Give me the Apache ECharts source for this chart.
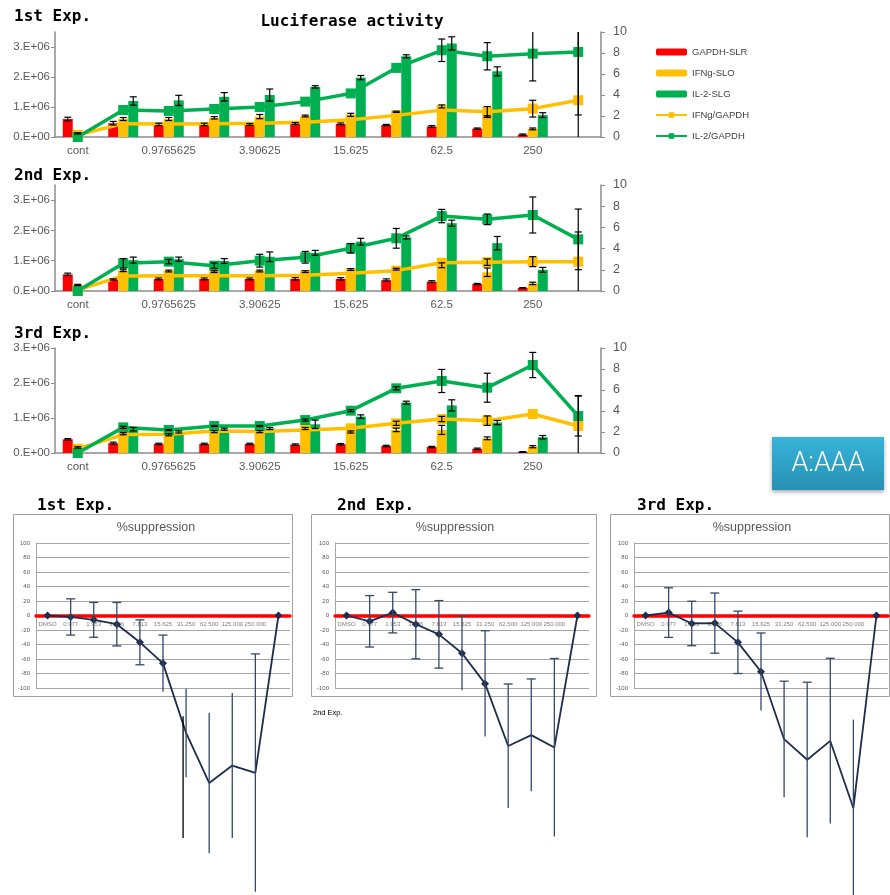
<!DOCTYPE html>
<html><head><meta charset="utf-8">
<script src="https://cdn.jsdelivr.net/npm/echarts@6/dist/echarts.min.js"></script>
<style>html,body{margin:0;padding:0;background:#fff}#c{width:890px;height:895px}</style>
</head><body><div id="c"></div>
<script>
// ---------- DATA ----------
const categories = ['cont','0.48828125','0.9765625','1.953125','3.90625','7.8125','15.625','31.25','62.5','125','250','500'];
const leftTickValues = [0, 1e6, 2e6, 3e6];
const seriesNames = ['GAPDH-SLR','IFNg-SLO','IL-2-SLG','IFNg/GAPDH','IL-2/GAPDH'];

// 1st Exp.
const gapdh1    = [0.60e6,0.46e6,0.42e6,0.42e6,0.42e6,0.45e6,0.44e6,0.40e6,0.35e6,0.28e6,0.08e6,0];
const gapdh1Err = [0.06e6,0.06e6,0.04e6,0.04e6,0.03e6,0.03e6,0.03e6,0.02e6,0.03e6,0.02e6,0.02e6,0];
const ifng1     = [0.12e6,0.60e6,0.60e6,0.64e6,0.68e6,0.70e6,0.74e6,0.84e6,1.02e6,0.68e6,0.27e6,0];
const ifng1Err  = [0.02e6,0.05e6,0.05e6,0.04e6,0.07e6,0.03e6,0.05e6,0.02e6,0.05e6,0.03e6,0.03e6,0];
const il2b1     = [0,1.20e6,1.22e6,1.34e6,1.40e6,1.67e6,1.98e6,2.69e6,3.12e6,2.19e6,0.73e6,0];
const il2b1Err  = [0,0.14e6,0.17e6,0.14e6,0.20e6,0.04e6,0.07e6,0.05e6,0.22e6,0.15e6,0.08e6,0];
const ifnRatio1    = [0.2,1.27,1.24,1.27,1.30,1.40,1.65,2.06,2.56,2.40,2.70,3.50];
const ifnRatio1Err = [0,0,0,0,0,0,0,0,0,0.5,0.8,7.0];
const il2Ratio1    = [0,2.57,2.48,2.67,2.86,3.37,4.15,6.58,8.26,7.69,7.94,8.10];
const il2Ratio1Err = [0,0,0,0,0,0,0,0,1.07,1.3,2.6,6.0];

// 2nd Exp.
const gapdh2    = [0.55e6,0.38e6,0.40e6,0.40e6,0.40e6,0.40e6,0.40e6,0.36e6,0.31e6,0.23e6,0.10e6,0];
const gapdh2Err = [0.04e6,0.02e6,0.03e6,0.03e6,0.03e6,0.04e6,0.04e6,0.04e6,0.03e6,0.02e6,0.01e6,0];
const ifng2     = [0.20e6,0.67e6,0.66e6,0.64e6,0.66e6,0.64e6,0.71e6,0.72e6,0.85e6,0.62e6,0.25e6,0];
const ifng2Err  = [0.02e6,0.03e6,0.03e6,0.03e6,0.03e6,0.03e6,0.03e6,0.03e6,0.08e6,0.14e6,0.04e6,0];
const il2b2     = [0,1.02e6,1.05e6,0.99e6,1.13e6,1.26e6,1.63e6,1.77e6,2.24e6,1.58e6,0.70e6,0];
const il2b2Err  = [0,0.10e6,0.07e6,0.08e6,0.16e6,0.08e6,0.11e6,0.05e6,0.10e6,0.22e6,0.08e6,0];
const ifnRatio2    = [0.1,1.42,1.45,1.45,1.45,1.48,1.67,1.92,2.67,2.72,2.77,2.77];
const ifnRatio2Err = [0,0,0,0,0,0,0,0,0,0.3,0.47,2.8];
const il2Ratio2    = [0,2.61,2.77,2.39,2.86,3.18,4.03,4.97,7.07,6.76,7.17,4.87];
const il2Ratio2Err = [0,0.45,0.2,0.25,0.6,0.55,0.45,0.93,0.63,0.5,1.7,2.86];

// 3rd Exp.
const gapdh3    = [0.39e6,0.28e6,0.26e6,0.26e6,0.26e6,0.24e6,0.25e6,0.20e6,0.17e6,0.12e6,0.03e6,0];
const gapdh3Err = [0.02e6,0.03e6,0.02e6,0.02e6,0.02e6,0.02e6,0.02e6,0.02e6,0.02e6,0.02e6,0.01e6,0];
const ifng3     = [0.16e6,0.55e6,0.52e6,0.61e6,0.61e6,0.70e6,0.60e6,0.66e6,0.66e6,0.42e6,0.18e6,0];
const ifng3Err  = [0.02e6,0.03e6,0.03e6,0.03e6,0.03e6,0.03e6,0.03e6,0.05e6,0.13e6,0.04e6,0.03e6,0];
const il2b3     = [0,0.68e6,0.60e6,0.68e6,0.70e6,0.82e6,1.04e6,1.44e6,1.36e6,0.87e6,0.45e6,0];
const il2b3Err  = [0,0.05e6,0.03e6,0.03e6,0.03e6,0.12e6,0.05e6,0.04e6,0.16e6,0.06e6,0.05e6,0];
const ifnRatio3    = [0.4,1.75,1.78,2.1,2.05,2.18,2.35,2.83,3.24,3.08,3.71,2.57];
const ifnRatio3Err = [0,0,0,0,0,0,0,0.2,0.25,0.45,0,2.9];
const il2Ratio3    = [0,2.44,2.19,2.57,2.57,3.14,4.03,6.16,6.86,6.22,8.38,3.52];
const il2Ratio3Err = [0,0.1,0.05,0.05,0.05,0.1,0.1,0.15,1.1,1.38,1.2,1.9];

// %suppression panels
const suppCategories = ['DMSO','0.977','1.953','3.906','7.813','15.625','31.250','62.500','125.000','250.000',''];
const suppTicks = {min: -100, max: 100, step: 20};
const supp1    = [0,-2,-6,-12,-37,-66,-162,-231,-207,-217,0];
const supp1Err = [0,25,24,30,31,39,61,97,100,164,0];
// stray second error bar drawn at 31.250 in the 1st panel (mid value and half-range)
const supp1ExtraMid = [0,0,0,0,0,0,-223,0,0,0,0];
const supp1ExtraErr = [0,0,0,0,0,0,84,0,0,0,0];
const supp2    = [0,-8,4,-12,-26,-52,-94,-180,-165,-182,0];
const supp2Err = [0,35.5,28,47.7,46.6,51,73,85.5,77.5,122.7,0];
const supp3    = [0,4,-11,-10.5,-37,-77.5,-170.6,-199,-173,-265.6,0];
const supp3Err = [0,34.2,30.7,41.5,43,53.4,80,107,114,122,0];

// ---------- CHART ----------
const chart = echarts.init(document.getElementById('c'));
const RED = '#ff0000', YEL = '#ffc000', GRN = '#00b050';
const AX = '#8c8c8c', LBL = '#595959';
const BAR_W = 10;

const tops = [
  {top: 32,  h: 105, lmax: 3.5e6, g: gapdh1, gE: gapdh1Err, y: ifng1, yE: ifng1Err, b: il2b1, bE: il2b1Err, r1: ifnRatio1, r1E: ifnRatio1Err, r2: il2Ratio1, r2E: il2Ratio1Err},
  {top: 185, h: 106, lmax: 3.5e6, g: gapdh2, gE: gapdh2Err, y: ifng2, yE: ifng2Err, b: il2b2, bE: il2b2Err, r1: ifnRatio2, r1E: ifnRatio2Err, r2: il2Ratio2, r2E: il2Ratio2Err},
  {top: 348, h: 105, lmax: 3.0e6, g: gapdh3, gE: gapdh3Err, y: ifng3, yE: ifng3Err, b: il2b3, bE: il2b3Err, r1: ifnRatio3, r1E: ifnRatio3Err, r2: il2Ratio3, r2E: il2Ratio3Err}
];
const bottoms = [
  {left: 36,  s: supp1, e: supp1Err},
  {left: 335, s: supp2, e: supp2Err},
  {left: 634, s: supp3, e: supp3Err}
];

function errRender(offset, capW, lowB, highB, clamp, color, lw) {
  const inside = v => v >= lowB && v <= highB;
  return function (params, api) {
    const x = api.value(0), v = api.value(1), e = api.value(2);
    if (!e) return null;
    const lo = v - e, hi = v + e;
    const loC = clamp ? Math.max(lo, lowB) : lo;
    const hiC = clamp ? Math.min(hi, highB) : hi;
    const p1 = api.coord([x, hiC]), p2 = api.coord([x, loC]);
    const cx = p1[0] + offset;
    const st = {stroke: color, lineWidth: lw};
    const ch = [{type: 'line', shape: {x1: cx, y1: p1[1], x2: cx, y2: p2[1]}, style: st}];
    if (inside(hi)) ch.push({type: 'line', shape: {x1: cx - capW/2, y1: p1[1], x2: cx + capW/2, y2: p1[1]}, style: st});
    if (inside(lo)) ch.push({type: 'line', shape: {x1: cx - capW/2, y1: p2[1], x2: cx + capW/2, y2: p2[1]}, style: st});
    return {type: 'group', children: ch};
  };
}
function errData(vals, errs) { return vals.map((v, i) => [i, v, errs[i]]); }

const grid = [], xAxis = [], yAxis = [], series = [];
tops.forEach((t, i) => {
  grid.push({left: 55, top: t.top, width: 546, height: t.h});
  xAxis.push({
    type: 'category', gridIndex: i, data: categories, boundaryGap: true,
    axisLine: {lineStyle: {color: AX, width: 1.5}},
    axisTick: {interval: 0, length: 4, lineStyle: {color: AX}},
    axisLabel: {interval: 1, fontSize: 11.5, color: LBL, margin: 8, fontFamily: 'Liberation Sans'}
  });
  yAxis.push({
    type: 'value', gridIndex: i, min: 0, max: t.lmax, position: 'left',
    axisLine: {show: true, lineStyle: {color: AX, width: 1.5}},
    axisTick: {show: true, length: 4, customValues: leftTickValues, lineStyle: {color: AX}},
    axisLabel: {customValues: leftTickValues, fontSize: 11.5, color: LBL, margin: 5, fontFamily: 'Liberation Sans',
      formatter: v => v === 0 ? '0.E+00' : (v / 1e6) + '.E+06'},
    splitLine: {show: false}
  });
  yAxis.push({
    type: 'value', gridIndex: i, min: 0, max: 10, interval: 2, position: 'right',
    axisLine: {show: true, lineStyle: {color: AX, width: 1.5}},
    axisTick: {show: true, length: 4, lineStyle: {color: AX}},
    axisLabel: {fontSize: 12.5, color: LBL, margin: 12, fontFamily: 'Liberation Sans'},
    splitLine: {show: false}
  });
  const ly = 2 * i, ry = 2 * i + 1;
  const barBase = {type: 'bar', xAxisIndex: i, yAxisIndex: ly, barWidth: BAR_W, barGap: '0%'};
  series.push(Object.assign({name: seriesNames[0], data: t.g, itemStyle: {color: RED}}, barBase));
  series.push(Object.assign({name: seriesNames[1], data: t.y, itemStyle: {color: YEL}}, barBase));
  series.push(Object.assign({name: seriesNames[2], data: t.b, itemStyle: {color: GRN}}, barBase));
  [[t.gE, t.g, -BAR_W], [t.yE, t.y, 0], [t.bE, t.b, BAR_W]].forEach(([e, v, off]) => {
    series.push({type: 'custom', xAxisIndex: i, yAxisIndex: ly, z: 4, silent: true,
      renderItem: errRender(off, 7, 0, t.lmax, true, '#000', 1.2),
      data: errData(v, e), encode: {x: 0, y: 1}});
  });
  const lineBase = {type: 'line', xAxisIndex: i, yAxisIndex: ry, symbol: 'rect', symbolSize: 10, z: 3};
  series.push(Object.assign({name: seriesNames[3], data: t.r1, lineStyle: {color: YEL, width: 3.5}, itemStyle: {color: YEL}}, lineBase));
  series.push(Object.assign({name: seriesNames[4], data: t.r2, lineStyle: {color: GRN, width: 3.5}, itemStyle: {color: GRN}}, lineBase));
  [[t.r1E, t.r1], [t.r2E, t.r2]].forEach(([e, v]) => {
    series.push({type: 'custom', xAxisIndex: i, yAxisIndex: ry, z: 5, silent: true,
      renderItem: errRender(0, 7, 0, 10, true, '#000', 1.2),
      data: errData(v, e), encode: {x: 0, y: 1}});
  });
});

bottoms.forEach((b, j) => {
  const gi = 3 + j, yi = 6 + j;
  grid.push({left: b.left, top: 543, width: 254, height: 145});
  xAxis.push({
    type: 'category', gridIndex: gi, data: suppCategories, boundaryGap: true,
    axisLine: {onZero: true, lineStyle: {color: RED, width: 3.5}},
    axisTick: {show: false},
    axisLabel: {interval: 0, fontSize: 6, color: '#7f7f7f', margin: 6, fontFamily: 'Liberation Sans'}
  });
  yAxis.push({
    type: 'value', gridIndex: gi, min: suppTicks.min, max: suppTicks.max, interval: suppTicks.step,
    axisLine: {show: true, lineStyle: {color: '#a6a6a6'}},
    axisTick: {show: false},
    axisLabel: {fontSize: 6, color: '#595959', margin: 6, fontFamily: 'Liberation Sans'},
    splitLine: {show: true, lineStyle: {color: '#a6a6a6', width: 1}}
  });
  series.push({
    type: 'line', name: 'supp' + (j + 1), xAxisIndex: gi, yAxisIndex: yi, clip: false, z: 4,
    data: b.s.map(v => ({value: v, symbol: v < suppTicks.min ? 'none' : 'diamond'})),
    symbolSize: 8, lineStyle: {color: '#1f2d4d', width: 1.8}, itemStyle: {color: '#1f2d4d'}
  });
  series.push({
    type: 'custom', xAxisIndex: gi, yAxisIndex: yi, clip: false, z: 5, silent: true,
    renderItem: errRender(0, 9, suppTicks.min, suppTicks.max, false, '#34486a', 1.3),
    data: errData(b.s, b.e), encode: {x: 0, y: 1}
  });
});
series.push({
  type: 'custom', xAxisIndex: 3, yAxisIndex: 6, clip: false, z: 5, silent: true,
  renderItem: errRender(-3, 9, suppTicks.min, suppTicks.max, false, '#000', 1.3),
  data: errData(supp1ExtraMid, supp1ExtraErr), encode: {x: 0, y: 1}
});

const monoBold = 'bold 16px "DejaVu Sans Mono"';
function txt(text, x, y, font, fill, align) {
  return {type: 'text', x: x, y: y, z: 100,
    style: {text: text, font: font, fill: fill || '#000', textAlign: align || 'left', textVerticalAlign: 'middle'}};
}
const graphic = [
  txt('1st Exp.', 14, 17, monoBold),
  txt('Luciferase activity', 352, 22, monoBold, '#000', 'center'),
  txt('2nd Exp.', 14, 176, monoBold),
  txt('3rd Exp.', 14, 334, monoBold),
  {type: 'rect', shape: {x: 13.5, y: 514.5, width: 279, height: 182}, style: {fill: 'none', stroke: '#a0a0a0', lineWidth: 1}, z: 0},
  {type: 'rect', shape: {x: 311.5, y: 514.5, width: 285, height: 182}, style: {fill: 'none', stroke: '#a0a0a0', lineWidth: 1}, z: 0},
  {type: 'rect', shape: {x: 610.5, y: 514.5, width: 279, height: 182}, style: {fill: 'none', stroke: '#a0a0a0', lineWidth: 1}, z: 0},
  txt('1st Exp.', 37, 506, monoBold),
  txt('2nd Exp.', 337, 506, monoBold),
  txt('3rd Exp.', 637, 506, monoBold),
  txt('%suppression', 156, 528, '12.5px "Liberation Sans"', '#595959', 'center'),
  txt('%suppression', 455, 528, '12.5px "Liberation Sans"', '#595959', 'center'),
  txt('%suppression', 752, 528, '12.5px "Liberation Sans"', '#595959', 'center'),
  txt('2nd Exp.', 313, 713, '7.5px "Liberation Sans"', '#000'),
  {type: 'rect', z: 100, shape: {x: 772, y: 437, width: 112, height: 53},
    style: {fill: new echarts.graphic.LinearGradient(0, 0, 0, 1, [{offset: 0, color: '#38b3da'}, {offset: 1, color: '#2791b3'}]),
      shadowBlur: 4, shadowOffsetY: 2, shadowColor: 'rgba(0,0,0,0.35)'}},
  {type: 'text', x: 828, y: 464, z: 101, style: {text: 'A:AAA', font: '300 27px Roboto', fill: '#ffffff', textAlign: 'center', textVerticalAlign: 'middle'}}
];

chart.setOption({
  animation: false,
  backgroundColor: '#fff',
  legend: {
    data: seriesNames, orient: 'vertical', left: 650, top: 42, itemWidth: 31, itemHeight: 7, itemGap: 11,
    textStyle: {fontSize: 9.5, color: '#404040', fontFamily: 'Liberation Sans'}
  },
  grid, xAxis, yAxis, series, graphic
});

// In this ECharts build the category labels of an on-zero axis stay at the grid bottom;
// shift them up so they sit just under the zero line as in the reference.
const zeroOffset = (function () {
  const pZero = chart.convertToPixel({gridIndex: 3}, [0, 0])[1];
  const pMin = chart.convertToPixel({gridIndex: 3}, [0, suppTicks.min])[1];
  return pZero - pMin;
})();
if (Math.abs(zeroOffset) > 1) {
  chart.setOption({xAxis: xAxis.map((a, k) => k < 3 ? {} : {axisLabel: {margin: 6 + zeroOffset}})});
}
</script></body></html>
